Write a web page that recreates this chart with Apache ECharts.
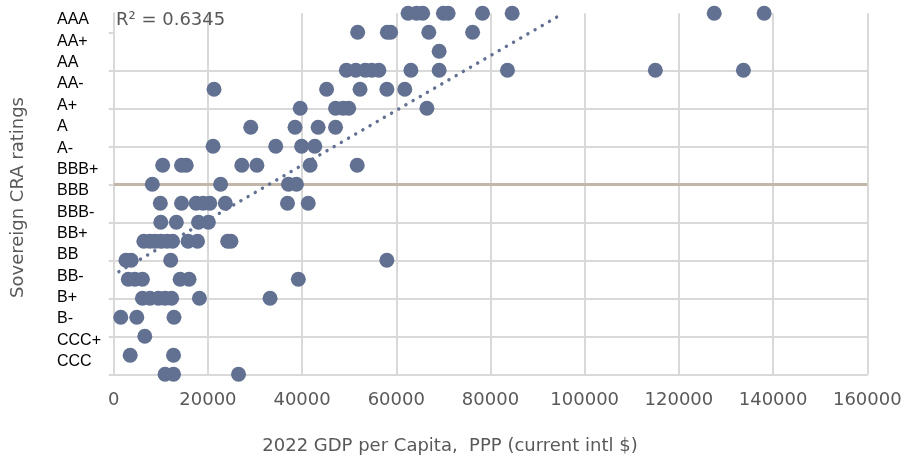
<!DOCTYPE html>
<html><head><meta charset="utf-8">
<script src="https://cdn.jsdelivr.net/npm/echarts@6/dist/echarts.min.js"></script>
<style>html,body{margin:0;padding:0;background:#fff}#c{width:906px;height:463px}</style>
</head><body><div id="c"></div>
<script>
// Rating labels shown at left (top to bottom)
const ratingLabels = ['AAA','AA+','AA','AA-','A+','A','A-','BBB+','BBB','BBB-','BB+','BB','BB-','B+','B-','CCC+','CCC'];
// Scatter points: GDP per capita (x) and rating score (y)
const gdpPerCapita = [
  62500, 64300, 65600, 70000, 71000, 78300, 84600, 127500, 138100,
  51800, 58100, 58800, 66900, 76200,
  69100,
  49400, 51400, 53400, 54800, 56300, 63100, 69100, 83600, 115000, 133700,
  21300, 45200, 52300, 58000, 61800,
  39600, 47100, 48700, 49900, 66500,
  29100, 38500, 43400, 47100,
  21100, 34400, 39900, 42700,
  10400, 14400, 15400, 27200, 30400, 41700, 51700,
  8200, 22700, 37100, 38800,
  9900, 14400, 17500, 19000, 20400, 23700, 36900, 41300,
  10000, 13300, 18000, 20100,
  6400, 7700, 8800, 10000, 11300, 12500, 15800, 17800, 24200, 24900,
  2600, 3700, 12100, 58000,
  3100, 4500, 6100, 14100, 16000, 39200,
  6100, 7700, 9500, 10900, 12300, 18200, 33200,
  1500, 4900, 12800,
  6600,
  3500, 12700,
  10900, 12700, 26500
];
const ratingScore = [
  19,19,19,19,19,19,19,19,19,
  18,18,18,18,18,
  17,
  16,16,16,16,16,16,16,16,16,16,
  15,15,15,15,15,
  14,14,14,14,14,
  13,13,13,13,
  12,12,12,12,
  11,11,11,11,11,11,11,
  10,10,10,10,
  9,9,9,9,9,9,9,9,
  8,8,8,8,
  7,7,7,7,7,7,7,7,7,7,
  6,6,6,6,
  5,5,5,5,5,5,
  4,4,4,4,4,4,4,
  3,3,3,
  2,
  1,1,
  0,0,0
];
// Linear trendline endpoints
const trendX = [1100, 95450];
const trendY = [5.4, 19];
const r2Text = 'R\u00B2 = 0.6345';
const thresholdScore = [10];
const yTickValues = [0, 2, 4, 6, 8, 10, 12, 14, 16, 18];

const points = gdpPerCapita.map((g, i) => [g, ratingScore[i]]);
const trend = trendX.map((x, i) => [x, trendY[i]]);

const GRID = '#d9d9d9';
const TXT = '#595959';
const DOT = '#627091';
const FONT = 'DejaVu Sans';

const chart = echarts.init(document.getElementById('c'), null, {renderer: 'canvas'});
chart.setOption({
  animation: false,
  backgroundColor: '#fff',
  title: {
    text: r2Text, left: 116, top: 11, padding: 0,
    textStyle: {fontFamily: FONT, fontSize: 18, fontWeight: 'normal', color: TXT, lineHeight: 18}
  },
  grid: [
    {left: 113.7, right: 38.7, top: 13.3, bottom: 88.7, outerBoundsMode: 'none', containLabel: false},
    {left: 100, width: 1, top: 9.3, height: 363, outerBoundsMode: 'none', containLabel: false}
  ],
  xAxis: [
    {
      type: 'value', gridIndex: 0, min: 0, max: 160000, interval: 20000,
      axisLine: {show: true, lineStyle: {color: GRID, width: 2}},
      axisTick: {show: false},
      splitLine: {show: true, lineStyle: {color: GRID, width: 2}},
      axisLabel: {color: TXT, fontFamily: FONT, fontSize: 18, margin: 17, formatter: v => String(v)}
    },
    {type: 'value', gridIndex: 1, show: false}
  ],
  yAxis: [
    {
      type: 'value', gridIndex: 0, min: 0, max: 19, interval: 2,
      axisLine: {show: true, lineStyle: {color: GRID, width: 2}},
      axisTick: {show: true, length: 5, customValues: yTickValues, lineStyle: {color: GRID, width: 2}},
      splitLine: {show: true, showMaxLine: false, lineStyle: {color: GRID, width: 2}},
      axisLabel: {show: false}
    },
    {
      type: 'category', gridIndex: 1, inverse: true, data: ratingLabels,
      axisLine: {show: false}, axisTick: {show: false}, splitLine: {show: false},
      axisLabel: {align: 'left', margin: 43, color: '#000', fontFamily: 'Liberation Sans', fontSize: 16, interval: 0}
    }
  ],
  graphic: [
    {type: 'text', x: 450, y: 446, style: {text: '2022 GDP per Capita,  PPP (current intl $)', fill: TXT, font: '18px "DejaVu Sans"', align: 'center', verticalAlign: 'middle'}},
    {type: 'text', x: 18.5, y: 197.5, rotation: Math.PI / 2, style: {text: 'Sovereign CRA ratings', fill: TXT, font: '18px "DejaVu Sans"', align: 'center', verticalAlign: 'middle'}}
  ],
  series: [
    {
      type: 'scatter', xAxisIndex: 0, yAxisIndex: 0, data: points,
      symbol: 'circle', symbolSize: 15,
      itemStyle: {color: DOT, opacity: 1},
      z: 3,
      markLine: {
        silent: true, symbol: ['none', 'none'], label: {show: false},
        lineStyle: {color: '#c2b6a8', width: 3, type: 'solid'},
        data: thresholdScore.map(v => ({yAxis: v})),
        z: 2
      }
    },
    {
      type: 'line', xAxisIndex: 0, yAxisIndex: 0, data: trend,
      symbol: 'none', z: 4, silent: true,
      lineStyle: {color: DOT, width: 3.4, type: [0.1, 8.2], cap: 'round'}
    }
  ]
});
</script></body></html>
